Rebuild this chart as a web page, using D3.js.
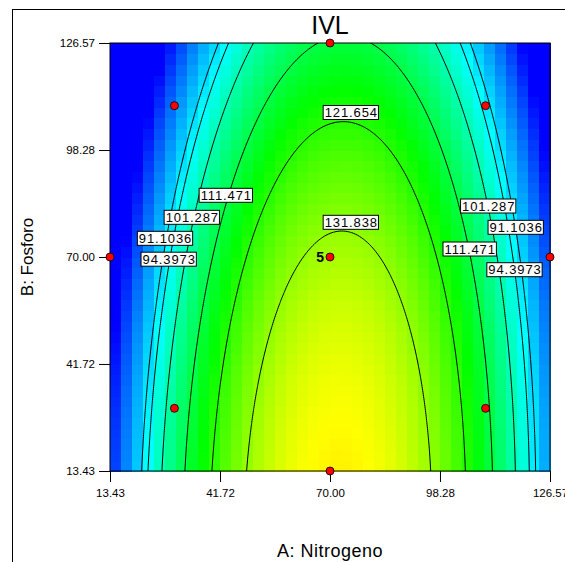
<!DOCTYPE html>
<html><head><meta charset="utf-8">
<script src="https://cdn.jsdelivr.net/npm/d3@7/dist/d3.min.js"></script>
<style>body{margin:0;background:#fff}svg{display:block}text{font-family:Arial,"Liberation Sans",sans-serif}</style>
</head><body>
<svg id="chart" width="565" height="562"></svg>
<script>
// ---------- data ----------
const chartTitle = "IVL";
const xTitle = "A: Nitrogeno";
const yTitle = "B: Fosforo";
const xTicks = [13.43, 41.72, 70.00, 98.28, 126.57];
const yTicks = [13.43, 41.72, 70.00, 98.28, 126.57];
const factorCenter = 70, factorStep = 40;              // coded units
const modelTerms = ["Intercept", "A", "B", "AB", "A^2", "B^2"];
const modelCoefs = [133.62, 4.81, -10.96, 0.845, -32.5, -3.0];
const contourLevels = [91.1036, 94.3973, 101.287, 111.471, 121.654, 131.838];
const pointA = [13.43, 126.57, 70, 70, 70, 30, 110, 30, 110];
const pointB = [70, 70, 13.43, 126.57, 70, 110, 110, 30, 30];
const pointReps = [1, 1, 1, 1, 5, 1, 1, 1, 1];
const colorStops = [70, 94, 118, 142, 166];
const colorNames = ["#0000ff", "#00ffff", "#00ff00", "#ffff00", "#ff0000"];
// contour-label placement (data units)
const labelLevel = [121.654, 131.838, 111.471, 101.287, 91.1036, 94.3973, 101.287, 91.1036, 111.471, 94.3973];
const labelA = [75.48, 75.48, 43.34, 34.59, 27.70, 28.65, 110.81, 117.88, 106.05, 117.57];
const labelB = [108.2, 79.17, 86.31, 80.49, 74.94, 69.42, 83.48, 77.85, 72.11, 66.64];

// ---------- layout ----------
const W = 565, H = 562;
const plot = {x0: 110, x1: 550, y0: 43, y1: 471};
const svg = d3.select("#chart");
const xMin = xTicks[0], xMax = xTicks[xTicks.length - 1];
const yMin = yTicks[0], yMax = yTicks[yTicks.length - 1];
const x = d3.scaleLinear().domain([xMin, xMax]).range([plot.x0, plot.x1]);
const y = d3.scaleLinear().domain([yMin, yMax]).range([plot.y1, plot.y0]);
const color = d3.scaleLinear().domain(colorStops).range(colorNames).clamp(true);

function model(A, B) {
  const a = (A - factorCenter) / factorStep, b = (B - factorCenter) / factorStep;
  const t = [1, a, b, a * b, a * a, b * b];
  return d3.sum(t, (v, i) => v * modelCoefs[i]);
}

// outer frame
svg.append("rect").attr("x", 12.5).attr("y", 9.5).attr("width", 700).attr("height", 700)
  .attr("fill", "none").attr("stroke", "#000").attr("stroke-width", 1);

svg.append("defs").append("clipPath").attr("id", "clip")
  .append("rect").attr("x", plot.x0).attr("y", plot.y0)
  .attr("width", plot.x1 - plot.x0).attr("height", plot.y1 - plot.y0);

// colored cells
const nCells = 40;
const dA = (xMax - xMin) / nCells, dB = (yMax - yMin) / nCells;
const cells = [];
for (let j = 0; j < nCells; j++) for (let i = 0; i < nCells; i++) {
  const A0 = xMin + i * dA, B0 = yMin + j * dB;
  cells.push({A0, A1: A0 + dA, B0, B1: B0 + dB, v: model(A0 + dA / 2, B0 + dB / 2)});
}
svg.append("g").attr("shape-rendering", "crispEdges").selectAll("rect").data(cells).join("rect")
  .attr("x", d => x(d.A0)).attr("y", d => y(d.B1))
  .attr("width", d => x(d.A1) - x(d.A0) + 0.5).attr("height", d => y(d.B0) - y(d.B1) + 0.5)
  .attr("fill", d => color(d.v));

// contour lines
const nx = 240, ny = 240, pad = 6;
const eA0 = xMin - pad, eA1 = xMax + pad, eB0 = yMin - pad, eB1 = yMax + pad;
const sA = (eA1 - eA0) / (nx - 1), sB = (eB1 - eB0) / (ny - 1);
const values = new Array(nx * ny);
for (let j = 0; j < ny; j++) for (let i = 0; i < nx; i++)
  values[j * nx + i] = model(eA0 + i * sA, eB1 - j * sB);
const contours = d3.contours().size([nx, ny]).thresholds(contourLevels)(values);
const proj = d3.geoTransform({point: function(u, v) {
  this.stream.point(x(eA0 + (u - 0.5) * sA), y(eB1 - (v - 0.5) * sB));
}});
svg.append("g").attr("clip-path", "url(#clip)").selectAll("path").data(contours).join("path")
  .attr("d", d3.geoPath(proj)).attr("fill", "none").attr("stroke", "#000").attr("stroke-width", 1);

// plot border
svg.append("rect").attr("x", plot.x0).attr("y", plot.y0)
  .attr("width", plot.x1 - plot.x0).attr("height", plot.y1 - plot.y0)
  .attr("fill", "none").attr("stroke", "#000").attr("stroke-width", 1);

// axes
const fmt = d3.format(".2f");
const gx = svg.append("g").attr("transform", `translate(0,${plot.y1})`)
  .call(d3.axisBottom(x).tickValues(xTicks).tickFormat(fmt).tickSize(11).tickSizeOuter(0).tickPadding(7));
const gy = svg.append("g").attr("transform", `translate(${plot.x0},0)`)
  .call(d3.axisLeft(y).tickValues(yTicks).tickFormat(fmt).tickSize(11).tickSizeOuter(0).tickPadding(4));
[gx, gy].forEach(g => {
  g.select(".domain").remove();
  g.selectAll(".tick line").attr("stroke", "#000");
  g.selectAll(".tick text").attr("fill", "#000").style("font-size", "11.5px")
    .style("font-family", "Arial, 'Liberation Sans', sans-serif");
});

// contour labels
const lfmt = d3.format(".6");
const lab = svg.append("g");
labelLevel.forEach((lv, k) => {
  const g = lab.append("g").attr("transform", `translate(${x(labelA[k])},${y(labelB[k])})`);
  const t = g.append("text").text(lfmt(lv)).attr("text-anchor", "middle").attr("dy", "0.36em")
    .style("font-size", "13px").style("letter-spacing", "0.9px").attr("fill", "#000");
  const bb = t.node().getBBox();
  g.insert("rect", "text").attr("x", bb.x - 1.5).attr("y", -7).attr("width", bb.width + 2)
    .attr("height", 14).attr("fill", "#fff").attr("stroke", "#000").attr("stroke-width", 1);
});

// design points
svg.append("g").selectAll("circle").data(pointA).join("circle")
  .attr("cx", (d, i) => x(d)).attr("cy", (d, i) => y(pointB[i])).attr("r", 4)
  .attr("fill", "#ff0000").attr("stroke", "#000").attr("stroke-width", 0.8);
svg.append("g").selectAll("text").data(pointA.filter((d, i) => pointReps[i] > 1)).join("text")
  .attr("x", d => x(d) - 6).attr("y", (d, i) => y(pointB[pointReps.findIndex(r => r > 1)]) + 5)
  .attr("text-anchor", "end").style("font-size", "14px").style("font-weight", "bold")
  .text((d, i) => pointReps.filter(r => r > 1)[i]);

// titles
svg.append("text").attr("x", (plot.x0 + plot.x1) / 2).attr("y", 34).attr("text-anchor", "middle")
  .style("font-size", "25px").text(chartTitle);
svg.append("text").attr("x", (plot.x0 + plot.x1) / 2).attr("y", 557).attr("text-anchor", "middle")
  .style("font-size", "18px").style("letter-spacing", "0.5px").text(xTitle);
svg.append("text").attr("transform", `translate(33,${(plot.y0 + plot.y1) / 2}) rotate(-90)`)
  .attr("text-anchor", "middle").style("font-size", "17px").text(yTitle);
</script>
</body></html>
